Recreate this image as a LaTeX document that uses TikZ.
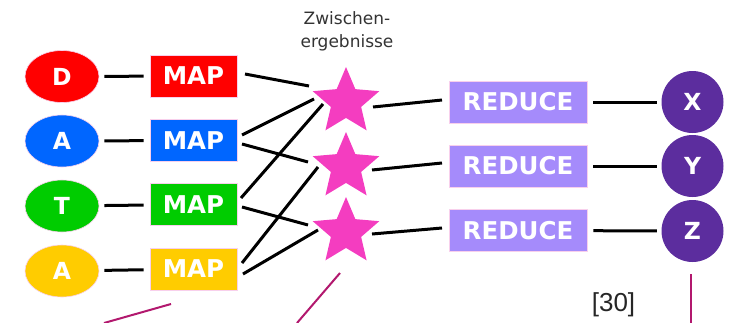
\documentclass[tikz,border=0pt]{standalone}
\usepackage{fontspec}
\setmainfont{DejaVu Sans}
\newfontfamily\citefont{Liberation Sans}
\usetikzlibrary{shapes.geometric,calc}

\definecolor{cRed}{HTML}{FF0000}
\definecolor{cBlue}{HTML}{0066FF}
\definecolor{cGreen}{HTML}{00CC00}
\definecolor{cYellow}{HTML}{FFCC00}
\definecolor{cReduce}{HTML}{A58BFB}
\definecolor{cOut}{HTML}{5C2D9E}
\definecolor{cStar}{HTML}{F43DC0}
\definecolor{cPointer}{HTML}{B2186E}
\definecolor{cRim}{HTML}{F8D0EC}
\definecolor{cNote}{HTML}{333333}

\tikzset{
  letter/.style={shape=ellipse, fill=#1, draw=cRim, line width=0.6pt,
    minimum width=74pt, minimum height=52pt, inner sep=0pt,
    text=white, font=\bfseries\fontsize{23.5}{23.5}\selectfont},
  mapbox/.style={shape=rectangle, fill=#1, draw=cRim, line width=0.6pt,
    minimum width=87pt, minimum height=42pt, inner sep=0pt,
    text=white, font=\bfseries\fontsize{24.5}{24.5}\selectfont},
  reducebox/.style={shape=rectangle, fill=cReduce, draw=cRim, line width=0.6pt,
    minimum width=138pt, minimum height=42pt, inner sep=0pt,
    text=white, font=\bfseries\fontsize{24.5}{24.5}\selectfont},
  result/.style={shape=circle, fill=cOut, minimum size=62pt, inner sep=0pt,
    text=white, font=\bfseries\fontsize{23.5}{23.5}\selectfont},
  interim/.style={shape=star, star points=5, star point ratio=2.2,
    fill=cStar, minimum size=70pt, inner sep=0pt},
  link/.style={draw=black, line width=3pt},
  pointer/.style={draw=cPointer, line width=2pt},
}

\begin{document}
\begin{tikzpicture}[x=1pt, y=-1pt]
  \useasboundingbox (0,0) rectangle (741,322);

  % input letters
  \node[letter=cRed]    (eD) at (62,76.5) {D};
  \node[letter=cBlue]   (eA) at (62,141)  {A};
  \node[letter=cGreen]  (eT) at (62,206)  {T};
  \node[letter=cYellow] (eY) at (62,271)  {A};

  % map stage
  \node[mapbox=cRed]    (mD) at (193.5,76)    {MAP};
  \node[mapbox=cBlue]   (mA) at (193.5,140.5) {MAP};
  \node[mapbox=cGreen]  (mT) at (193.5,204.5) {MAP};
  \node[mapbox=cYellow] (mY) at (193.5,269)   {MAP};

  % intermediate results
  \node[interim] (s1) at (346,102) {};
  \node[interim] (s2) at (346,167) {};
  \node[interim] (s3) at (346,232) {};
  \node[text=cNote, font=\fontsize{17}{23}\selectfont, align=center]
    (zw) at (347,31) {Zwischen-\\ergebnisse};

  % reduce stage
  \node[reducebox] (r1) at (518,102)   {REDUCE};
  \node[reducebox] (r2) at (518,166)   {REDUCE};
  \node[reducebox] (r3) at (518,230.5) {REDUCE};

  % outputs
  \node[result] (oX) at (692.5,102) {X};
  \node[result] (oY) at (692.5,166) {Y};
  \node[result] (oZ) at (692.5,231) {Z};

  % letters to map
  \foreach \a/\b in {eD/mD, eA/mA, eT/mT, eY/mY}
    \draw[link, shorten <=5pt, shorten >=6pt] (\a) -- (\b);

  % map to intermediate results
  \draw[link] ($(mD)+(51.5,-2)$)  -- ($(s1)+(-37,-16)$);
  \draw[link] ($(mA)+(48.5,-5.5)$) -- ($(s1)+(-32,-3)$);
  \draw[link] ($(mA)+(48.5,3.5)$)  -- ($(s2)+(-38,-5)$);
  \draw[link] ($(mT)+(47.5,-6.5)$) -- ($(s1)+(-23,2)$);
  \draw[link] ($(mT)+(48.5,2.5)$)  -- ($(s3)+(-38,-7)$);
  \draw[link] ($(mY)+(48.5,-6)$)   -- ($(s2)+(-28,0)$);
  \draw[link] ($(mY)+(49.5,5)$)    -- ($(s3)+(-28,-2)$);

  % intermediate results to reduce
  \draw[link] ($(s1)+(27,5)$) -- ($(r1)+(-76,-2)$);
  \draw[link] ($(s2)+(26,3)$) -- ($(r2)+(-76,-3)$);
  \draw[link] ($(s3)+(26,2)$) -- ($(r3)+(-76,-2.5)$);

  % reduce to outputs
  \foreach \a/\b in {r1/oX, r2/oY, r3/oZ}
    \draw[link, shorten <=6pt, shorten >=4.5pt] (\a) -- (\b);

  % citation and pointer lines
  \node[text=black!85, font=\citefont\fontsize{26}{26}\selectfont, inner sep=0pt]
    (cite) at (613.5,305) {[30]};
  \coordinate (p1a) at (171,304);
  \coordinate (p1b) at (104,323);
  \coordinate (p2a) at (340,273);
  \coordinate (p2b) at (297,323);
  \coordinate (p3b) at (691,323);
  \draw[pointer] (p1a) -- (p1b);
  \draw[pointer] (p2a) -- (p2b);
  \draw[pointer] ($(oZ)+(-1.5,43)$) -- (p3b);
\end{tikzpicture}
\end{document}
